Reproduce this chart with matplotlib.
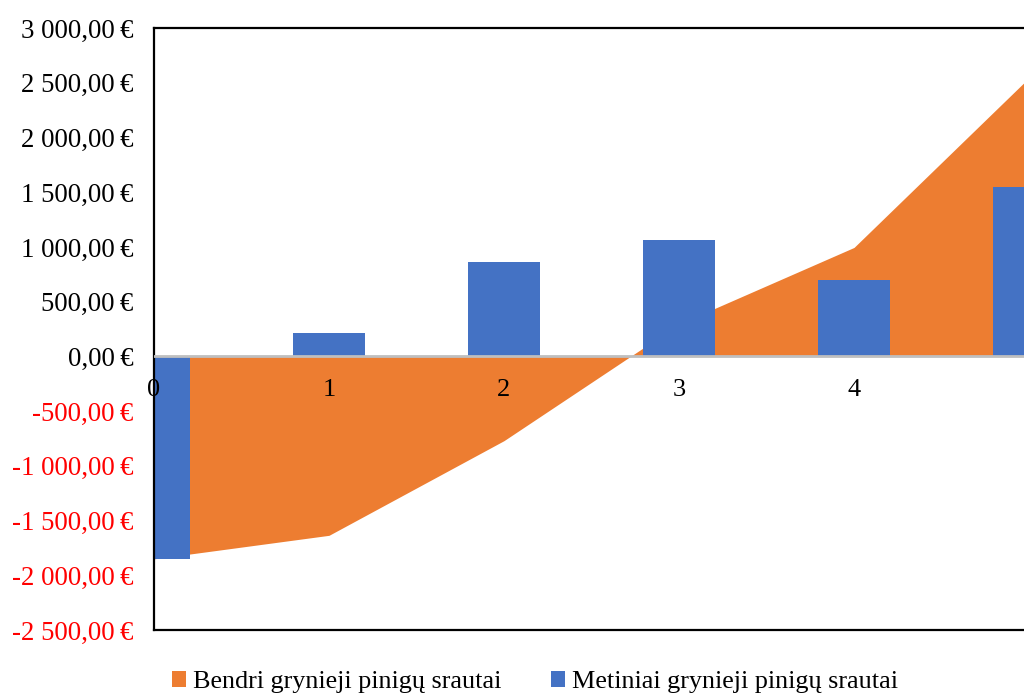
import matplotlib
matplotlib.use("Agg")
import matplotlib.pyplot as plt
from matplotlib.patches import Patch

categories = [0, 1, 2, 3, 4, 5]
annual_cf = [-1850, 215, 865, 1065, 700, 1550]          # Metiniai grynieji pinigų srautai
cumulative_cf = [-1850, -1635, -770, 295, 995, 2545]    # Bendri grynieji pinigų srautai
y_ticks = [3000, 2500, 2000, 1500, 1000, 500, 0, -500, -1000, -1500, -2000, -2500]
series_names = ["Bendri grynieji pinigų srautai", "Metiniai grynieji pinigų srautai"]

ORANGE = "#ED7D31"
BLUE = "#4472C4"
FONT = "Liberation Serif"
FS = 19

plt.rcParams["font.family"] = [FONT, "DejaVu Serif"]

fig = plt.figure(figsize=(10.24, 6.96), dpi=100)
ax = fig.add_axes([154 / 1024, 1 - 630 / 696, 6 * 175 / 1024, (630 - 28) / 696])

ax.fill_between(categories, cumulative_cf, 0, color=ORANGE, linewidth=0, zorder=1)
ax.bar(categories, annual_cf, width=0.41, color=BLUE, zorder=2)
ax.axhline(0, color="#BFBFBF", lw=2, zorder=3)

ax.set_xlim(0, 6)
ax.set_ylim(-2500, 3000)


def fmt(v):
    s = f"{abs(v):,.2f}".replace(",", " ").replace(".", ",")
    return ("-" if v < 0 else "") + s + "\u2009€"


ax.set_yticks(y_ticks)
ax.set_yticklabels([fmt(v) for v in y_ticks], fontsize=19.3, family=[FONT, "DejaVu Serif"])
for lbl, v in zip(ax.get_yticklabels(), y_ticks):
    lbl.set_color("#FF0000" if v < 0 else "black")
ax.tick_params(axis="y", length=0, pad=15)
ax.set_xticks([])

for c in categories:
    ax.annotate(str(c), (c, 0), xytext=(0, -16), textcoords="offset points",
                ha="center", va="top", fontsize=FS, family=FONT, zorder=4,
                annotation_clip=False)

for side in ["left", "top", "bottom", "right"]:
    ax.spines[side].set_color("black")
    ax.spines[side].set_linewidth(1.6)

handles = [Patch(facecolor=ORANGE, edgecolor="none"), Patch(facecolor=BLUE, edgecolor="none")]
fig.legend(handles, series_names, loc="center left", bbox_to_anchor=(172 / 1024, 1 - 682 / 696),
           ncol=2, frameon=False, prop={"family": FONT, "size": 18.8},
           handlelength=0.55, handleheight=0.55, handletextpad=0.25, columnspacing=1.9,
           borderpad=0, borderaxespad=0)

fig.savefig("out.png", dpi=100)
